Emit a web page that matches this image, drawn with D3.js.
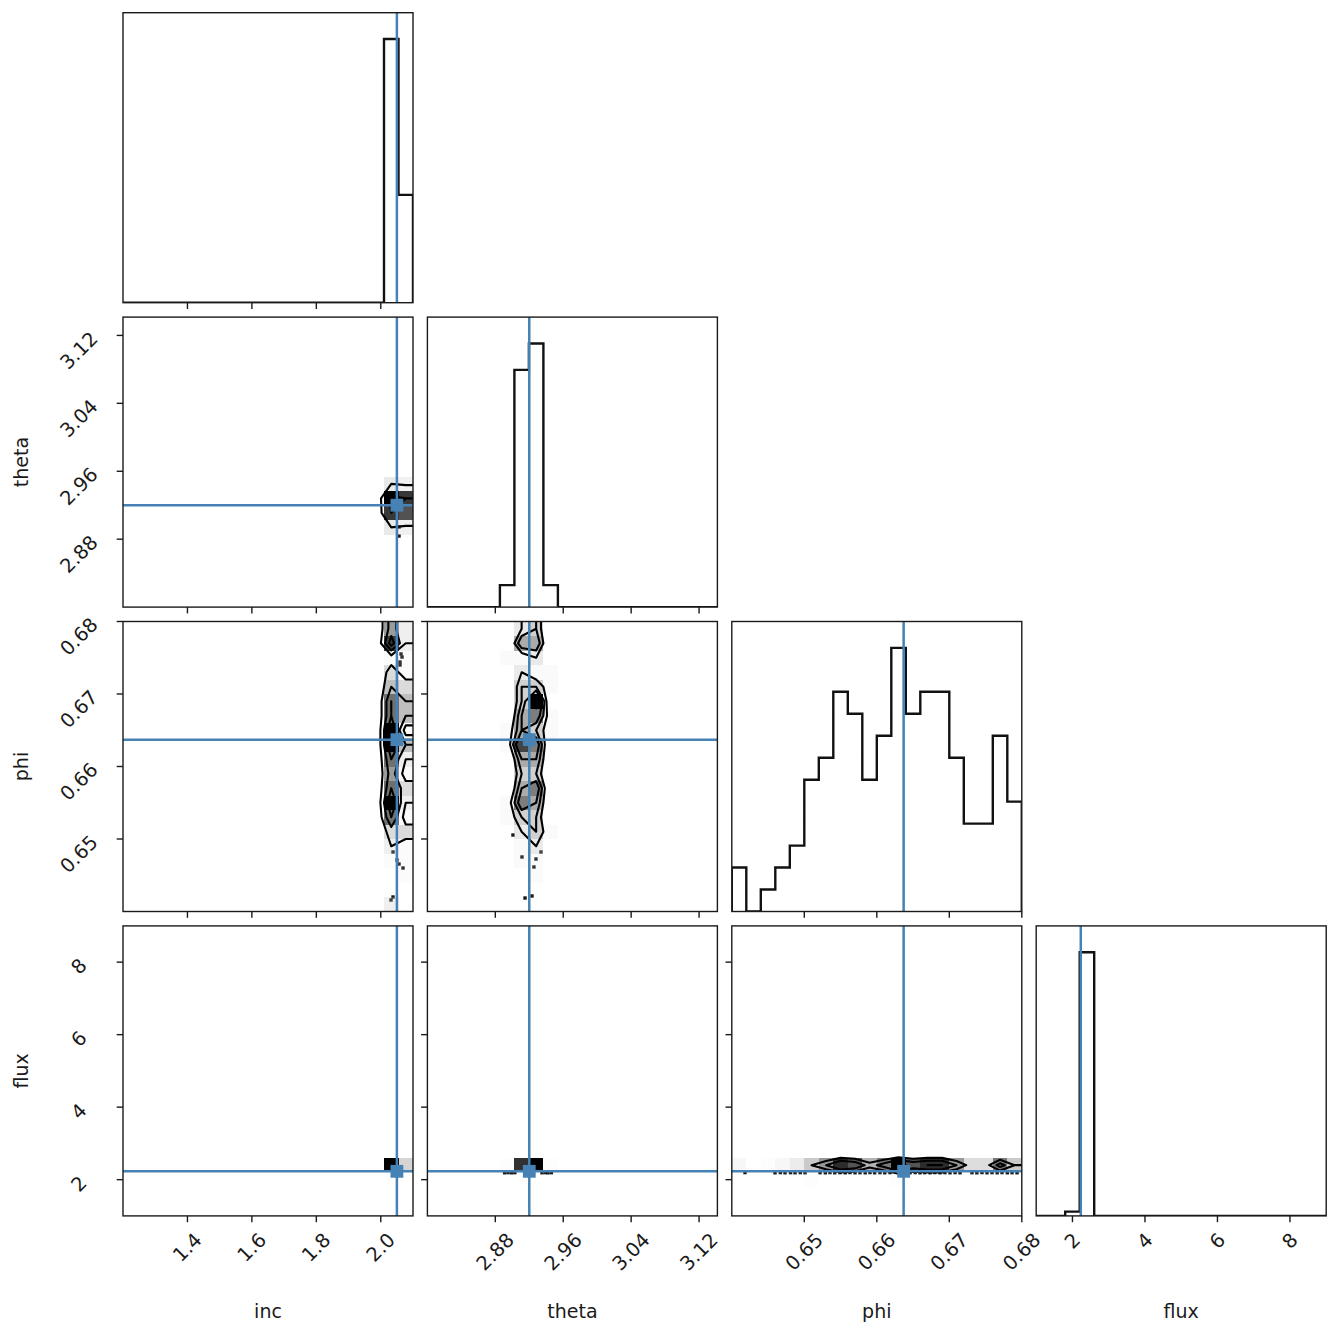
<!DOCTYPE html>
<html>
<head>
<meta charset="utf-8">
<script src="https://cdn.jsdelivr.net/npm/d3@7/dist/d3.min.js"></script>
<style>
  html, body { margin: 0; padding: 0; background: #fff; }
  svg { display: block; }
  text { font-family: "DejaVu Sans", sans-serif; fill: #1a1a1a; }
</style>
</head>
<body>
<svg id="chart" width="1328" height="1328"></svg>
<script>
// ---- parameters, plot ranges and reference (truth) values ----
const paramNames = ["inc", "theta", "phi", "flux"];
const incRange = [1.2, 2.1];
const thetaRange = [2.8, 3.14159];
const phiRange = [0.64, 0.68];
const fluxRange = [1.0, 9.0];
const truthValues = [2.05, 2.92, 0.6637, 2.23];
const nBins = 20;

// ---- tick positions and their labels ----
const incTicks = [1.4, 1.6, 1.8, 2.0];
const thetaTicks = [2.88, 2.96, 3.04, 3.12];
const phiTicks = [0.65, 0.66, 0.67, 0.68];
const fluxTicks = [2, 4, 6, 8];
const incTickLabels = ["1.4", "1.6", "1.8", "2.0"];
const thetaTickLabels = ["2.88", "2.96", "3.04", "3.12"];
const phiTickLabels = ["0.65", "0.66", "0.67", "0.68"];
const fluxTickLabels = ["2", "4", "6", "8"];

// ---- marginal histogram counts (20 bins over each range) ----
const incCounts   = [0,0,0,0,0,0,0,0,0,0,0,0,0,0,0,0,0,0,88,36];
const thetaCounts = [0,0,0,0,0,5,54,60,5,0,0,0,0,0,0,0,0,0,0,0];
const phiCounts   = [2,0,1,2,3,6,7,10,9,6,8,12,9,10,10,7,4,4,8,5];
const fluxCounts  = [0,0,2,122,0,0,0,0,0,0,0,0,0,0,0,0,0,0,0,0];

// ---- joint histogram counts ----
// start = [first x bin, first y bin]; each row is one y bin, listed from low to high
const thetaIncStart = [18, 5];
const thetaIncCounts = [[10,8],[30,28],[34,30],[10,8]];

const phiIncStart = [18, 0];
const phiIncCounts = [
  [2,0],[0,0],[0,1],[1,1],[2,1],[3,3],[6,1],[8,2],[6,3],[5,1],
  [6,2],[8,4],[8,1],[6,4],[6,4],[4,3],[3,1],[1,1],[7,2],[5,2]
];

const phiThetaStart = [5, 0];
const phiThetaCounts = [
  [0,0,0,0],[0,0,0,0],[0,0,1,0],[0,1,1,0],[0,1,2,0],
  [0,2,3,1],[1,3,3,0],[1,5,4,0],[0,4,5,0],[0,3,3,0],
  [0,4,4,0],[1,6,5,0],[1,4,3,1],[0,4,5,1],[0,3,7,0],
  [0,3,3,1],[0,2,1,1],[1,1,2,0],[0,4,4,0],[0,2,3,0]
];

const fluxIncStart = [18, 2];
const fluxIncCounts = [[1,1],[87,35]];

const fluxThetaStart = [5, 2];
const fluxThetaCounts = [[0,1,1,0],[5,53,59,5]];

const fluxPhiStart = [0, 2];
const fluxPhiCounts = [
  [0,0,0,0,0,1,0,0,0,0,0,1,0,0,0,0,0,0,0,0],
  [2,0,1,2,3,5,7,10,9,6,8,11,9,10,10,7,4,4,8,5]
];

// ---- individual samples lying outside the lowest contour ----
const thetaIncPoints = [[2.0566, 2.8943], [2.0566, 2.8837]];
const phiIncPoints = [
  [2.0628, 0.67552], [2.0659, 0.67510], [2.0597, 0.67441], [2.0597, 0.67400],
  [2.0380, 0.64821], [2.0504, 0.64710], [2.0566, 0.64655], [2.0690, 0.64600],
  [2.0380, 0.64200], [2.0318, 0.64159]
];
const phiThetaPoints = [
  [2.9008, 0.65055], [2.9114, 0.64752], [2.9279, 0.64724], [2.9255, 0.64614],
  [2.9338, 0.64821], [2.9150, 0.64186], [2.9232, 0.64214]
];
const fluxThetaPoints = [
  [2.891, 2.190], [2.895, 2.195], [2.899, 2.190], [2.903, 2.193],
  [2.935, 2.190], [2.939, 2.195], [2.942, 2.190], [2.946, 2.193]
];
const fluxPhiPoints = [
  [0.64182, 2.195], [0.64596, 2.190], [0.64670, 2.196], [0.64734, 2.190], [0.64810, 2.194],
  [0.64872, 2.190], [0.64945, 2.196], [0.65010, 2.190], [0.65217, 2.193], [0.65290, 2.190],
  [0.65354, 2.196], [0.65420, 2.190], [0.65492, 2.194], [0.65565, 2.190], [0.65630, 2.196],
  [0.65700, 2.190], [0.65768, 2.193], [0.65840, 2.190], [0.65906, 2.196], [0.65970, 2.190],
  [0.66044, 2.194], [0.66110, 2.190], [0.66182, 2.195], [0.66320, 2.190], [0.66390, 2.194],
  [0.66458, 2.190], [0.66530, 2.196], [0.66596, 2.190], [0.66660, 2.193], [0.66734, 2.190],
  [0.66800, 2.196], [0.66872, 2.190], [0.66940, 2.194], [0.67010, 2.190], [0.67080, 2.195],
  [0.67148, 2.190], [0.67313, 2.193], [0.67380, 2.190], [0.67451, 2.196], [0.67520, 2.190],
  [0.67589, 2.194], [0.67660, 2.190], [0.67727, 2.196], [0.67800, 2.190], [0.67865, 2.193],
  [0.67934, 2.190]
];

// ---- grouped lookups ----
const ranges = [incRange, thetaRange, phiRange, fluxRange];
const tickValues = [incTicks, thetaTicks, phiTicks, fluxTicks];
const tickTexts = [incTickLabels, thetaTickLabels, phiTickLabels, fluxTickLabels];
const marginals = [incCounts, thetaCounts, phiCounts, fluxCounts];
const joints = [
  { row: 1, col: 0, start: thetaIncStart, block: thetaIncCounts, points: thetaIncPoints },
  { row: 2, col: 0, start: phiIncStart, block: phiIncCounts, points: phiIncPoints },
  { row: 2, col: 1, start: phiThetaStart, block: phiThetaCounts, points: phiThetaPoints },
  { row: 3, col: 0, start: fluxIncStart, block: fluxIncCounts, points: [] },
  { row: 3, col: 1, start: fluxThetaStart, block: fluxThetaCounts, points: fluxThetaPoints },
  { row: 3, col: 2, start: fluxPhiStart, block: fluxPhiCounts, points: fluxPhiPoints }
];

// ---- layout ----
const origin = { x: 123, y: 12.7 };
const panel = 290;
const pitch = 304.4;
const tickLen = 6.3, tickPad = 6.3;
const tickFont = 19.5, labelFont = 19;
const yTickCenterX = 79;
const truthColor = "#4682b4";

const svg = d3.select("#chart");
const defs = svg.append("defs");

const xScale = j => {
  const x0 = origin.x + j * pitch;
  return d3.scaleLinear().domain(ranges[j]).range([x0, x0 + panel]);
};
const yScale = i => {
  const y0 = origin.y + i * pitch;
  return d3.scaleLinear().domain(ranges[i]).range([y0 + panel, y0]);
};

function makePanel(row, col) {
  const x0 = origin.x + col * pitch, y0 = origin.y + row * pitch;
  const id = `clip-${row}-${col}`;
  defs.append("clipPath").attr("id", id)
    .append("rect").attr("x", x0).attr("y", y0).attr("width", panel).attr("height", panel);
  const g = svg.append("g");
  const inner = g.append("g").attr("clip-path", `url(#${id})`);
  return { g, inner, x0, y0 };
}

function drawFrame(p) {
  p.g.append("rect")
    .attr("x", p.x0).attr("y", p.y0).attr("width", panel).attr("height", panel)
    .attr("fill", "none").attr("stroke", "#1a1a1a").attr("stroke-width", 1.4);
}

function drawXTicks(p, col) {
  const xs = xScale(col);
  const yb = p.y0 + panel;
  p.g.selectAll(null).data(tickValues[col]).join("line")
    .attr("x1", d => xs(d)).attr("x2", d => xs(d))
    .attr("y1", yb).attr("y2", yb + tickLen)
    .attr("stroke", "#1a1a1a").attr("stroke-width", 1.4);
}

function drawYTicks(p, row) {
  const ys = yScale(row);
  p.g.selectAll(null).data(tickValues[row]).join("line")
    .attr("x1", p.x0 - tickLen).attr("x2", p.x0)
    .attr("y1", d => ys(d)).attr("y2", d => ys(d))
    .attr("stroke", "#1a1a1a").attr("stroke-width", 1.4);
}

// contour levels at 0.5, 1, 1.5 and 2 sigma of the enclosed mass
function sigmaLevels(H) {
  const flat = H.flat().sort((a, b) => b - a);
  const total = d3.sum(flat);
  let acc = 0;
  const cum = flat.map(v => (acc += v) / total);
  const mass = [0.5, 1, 1.5, 2].map(s => 1 - Math.exp(-0.5 * s * s));
  let V = mass.map(m => {
    let idx = -1;
    for (let k = 0; k < cum.length; k++) if (cum[k] <= m) idx = k;
    return idx >= 0 ? flat[idx] : flat[0];
  });
  V.sort((a, b) => a - b);
  for (let guard = 0; guard < 200; guard++) {
    const k = V.findIndex((v, i) => i < V.length - 1 && v === V[i + 1]);
    if (k < 0) break;
    V[k] *= 1 - 1e-4;
  }
  return V.sort((a, b) => a - b);
}

// ---- 1D marginal histograms on the diagonal ----
for (let i = 0; i < 4; i++) {
  const p = makePanel(i, i);
  const xs = xScale(i);
  const counts = marginals[i];
  const ys = d3.scaleLinear().domain([0, 1.1 * d3.max(counts)]).range([p.y0 + panel, p.y0]);
  const [lo, hi] = ranges[i];
  const edges = d3.range(nBins + 1).map(k => lo + k * (hi - lo) / nBins);
  const outline = [[edges[0], 0]];
  counts.forEach((c, k) => { outline.push([edges[k], c], [edges[k + 1], c]); });
  outline.push([edges[nBins], 0]);
  p.inner.append("path")
    .attr("d", d3.line().x(d => xs(d[0])).y(d => ys(d[1]))(outline))
    .attr("fill", "none").attr("stroke", "#111").attr("stroke-width", 2.4)
    .attr("stroke-linejoin", "miter");
  p.inner.append("line")
    .attr("x1", xs(truthValues[i])).attr("x2", xs(truthValues[i]))
    .attr("y1", p.y0).attr("y2", p.y0 + panel)
    .attr("stroke", truthColor).attr("stroke-width", 2.5);
  drawXTicks(p, i);
  drawFrame(p);
}

// ---- 2D joint panels ----
joints.forEach(jp => {
  const p = makePanel(jp.row, jp.col);
  const xs = xScale(jp.col), ys = yScale(jp.row);
  const [xlo, xhi] = ranges[jp.col], [ylo, yhi] = ranges[jp.row];
  const dx = (xhi - xlo) / nBins, dy = (yhi - ylo) / nBins;

  // full count grid H[xBin][yBin]
  const H = d3.range(nBins).map(() => new Array(nBins).fill(0));
  jp.block.forEach((rowVals, r) => rowVals.forEach((v, c) => {
    H[jp.start[0] + c][jp.start[1] + r] = v;
  }));
  const hmax = d3.max(H.flat());
  const hmin = d3.min(H.flat());

  // samples
  p.inner.selectAll(null).data(jp.points).join("rect")
    .attr("x", d => xs(d[0]) - 1.7).attr("y", d => ys(d[1]) - 1.7)
    .attr("width", 3.4).attr("height", 3.4)
    .attr("fill", "#000").attr("opacity", 0.9);

  // density cells: black fading to transparent white
  const cells = [];
  for (let a = 0; a < nBins; a++) for (let b = 0; b < nBins; b++) {
    if (H[a][b] > 0) cells.push({ a, b, v: H[a][b] });
  }
  p.inner.selectAll(null).data(cells).join("rect")
    .attr("x", d => xs(xlo + d.a * dx))
    .attr("width", d => xs(xlo + (d.a + 1) * dx) - xs(xlo + d.a * dx))
    .attr("y", d => ys(ylo + (d.b + 1) * dy))
    .attr("height", d => ys(ylo + d.b * dy) - ys(ylo + (d.b + 1) * dy))
    .attr("shape-rendering", "crispEdges")
    .attr("fill", d => { const t = 1 - d.v / hmax; const c = Math.round(255 * t); return `rgb(${c},${c},${c})`; })
    .attr("fill-opacity", d => d.v / hmax);

  // padded grid for contouring (edge rows/columns repeated, outer ring at the minimum)
  const n = nBins + 4;
  const H2 = d3.range(n).map(() => new Array(n).fill(hmin));
  for (let a = 0; a < nBins; a++) for (let b = 0; b < nBins; b++) H2[a + 2][b + 2] = H[a][b];
  for (let b = 0; b < nBins; b++) { H2[1][b + 2] = H[0][b]; H2[n - 2][b + 2] = H[nBins - 1][b]; }
  for (let a = 0; a < nBins; a++) { H2[a + 2][1] = H[a][0]; H2[a + 2][n - 2] = H[a][nBins - 1]; }
  H2[1][1] = H[0][0]; H2[1][n - 2] = H[0][nBins - 1];
  H2[n - 2][1] = H[nBins - 1][0]; H2[n - 2][n - 2] = H[nBins - 1][nBins - 1];
  const values = new Array(n * n);
  for (let b = 0; b < n; b++) for (let a = 0; a < n; a++) values[b * n + a] = H2[a][b];

  const V = sigmaLevels(H);
  const rings = d3.contours().size([n, n]).thresholds(V)(values);
  const toData = d3.geoTransform({
    point(gx, gy) { this.stream.point(xs(xlo + (gx - 2) * dx), ys(ylo + (gy - 2) * dy)); }
  });
  const path = d3.geoPath(toData);
  p.inner.selectAll(null).data(rings).join("path")
    .attr("d", path)
    .attr("fill", "none").attr("stroke", "#000").attr("stroke-width", 2.1)
    .attr("stroke-linejoin", "round");

  // truth cross-hair and marker
  const tx = xs(truthValues[jp.col]), ty = ys(truthValues[jp.row]);
  p.inner.append("line").attr("x1", tx).attr("x2", tx).attr("y1", p.y0).attr("y2", p.y0 + panel)
    .attr("stroke", truthColor).attr("stroke-width", 2.5);
  p.inner.append("line").attr("x1", p.x0).attr("x2", p.x0 + panel).attr("y1", ty).attr("y2", ty)
    .attr("stroke", truthColor).attr("stroke-width", 2.5);
  p.inner.append("rect").attr("x", tx - 6.4).attr("y", ty - 6.4).attr("width", 12.8).attr("height", 12.8)
    .attr("fill", truthColor);

  drawXTicks(p, jp.col);
  drawYTicks(p, jp.row);
  drawFrame(p);
});

// ---- tick labels (rotated 45 degrees) ----
const bottomY = origin.y + 3 * pitch + panel;
function rotatedLabel(txt, cx, cy) {
  return svg.append("text").text(txt)
    .attr("font-size", tickFont)
    .attr("text-anchor", "middle").attr("dominant-baseline", "central")
    .attr("x", cx).attr("y", cy)
    .attr("transform", `rotate(-45,${cx},${cy})`);
}
function rotatedSide(t) {
  const w = t.node().getComputedTextLength();
  return (w + 1.17 * tickFont) / Math.SQRT2;
}
for (let j = 0; j < 4; j++) {
  const xs = xScale(j);
  tickValues[j].forEach((v, k) => {
    const t = rotatedLabel(tickTexts[j][k], xs(v), 0);
    const cy = bottomY + tickLen + tickPad + rotatedSide(t) / 2;
    t.attr("y", cy).attr("transform", `rotate(-45,${xs(v)},${cy})`);
  });
}
for (let i = 1; i < 4; i++) {
  const ys = yScale(i);
  tickValues[i].forEach((v, k) => {
    const t = rotatedLabel(tickTexts[i][k], yTickCenterX, 0);
    const cy = ys(v) + rotatedSide(t) / 2 - 0.42 * tickFont;
    t.attr("y", cy).attr("transform", `rotate(-45,${yTickCenterX},${cy})`);
  });
}

// ---- axis labels ----
for (let j = 0; j < 4; j++) {
  svg.append("text").text(paramNames[j])
    .attr("font-size", labelFont).attr("text-anchor", "middle")
    .attr("x", origin.x + j * pitch + panel / 2).attr("y", bottomY + 0.3 * panel + 15);
}
for (let i = 1; i < 4; i++) {
  const cy = origin.y + i * pitch + panel / 2;
  svg.append("text").text(paramNames[i])
    .attr("font-size", labelFont).attr("text-anchor", "middle")
    .attr("transform", `translate(28,${cy}) rotate(-90)`);
}
</script>
</body>
</html>
